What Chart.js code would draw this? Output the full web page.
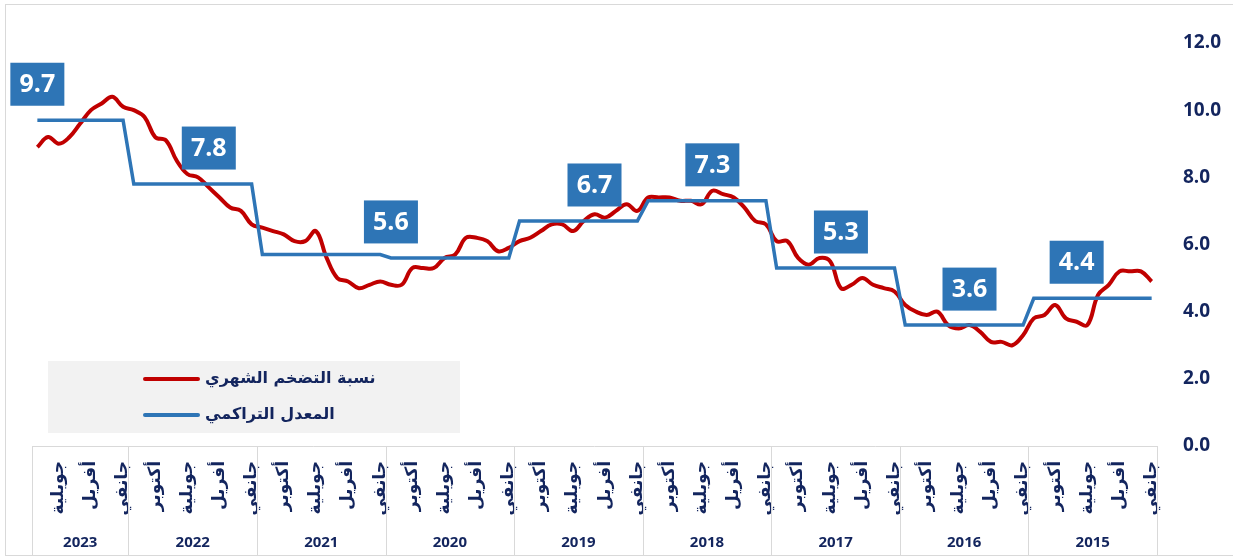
<!DOCTYPE html>
<html lang="ar">
<head>
<meta charset="utf-8">
<title>نسبة التضخم</title>
<script src="https://cdn.jsdelivr.net/npm/chart.js@4.4.0/dist/chart.umd.min.js"></script>
<style>
  html, body { margin: 0; padding: 0; background: #fff; }
  #cadre { width: 1233px; height: 556px; position: relative; }
</style>
</head>
<body>
<div id="cadre"><canvas id="inflationChart"></canvas></div>
<script>
// Catégories
const annees = ['2015', '2016', '2017', '2018', '2019', '2020', '2021', '2022', '2023'];
const mois = ['جانفي', 'فيفري', 'مارس', 'أفريل', 'ماي', 'جوان', 'جويلية', 'أوت', 'سبتمبر', 'أكتوبر', 'نوفمبر', 'ديسمبر'];

// Taux d'inflation mensuel (%), de janvier à décembre
const taux2015 = [4.9, 5.2, 5.2, 5.2, 4.8, 4.5, 3.6, 3.7, 3.8, 4.2, 3.9, 3.8];
const taux2016 = [3.3, 3.0, 3.1, 3.1, 3.4, 3.6, 3.5, 3.6, 4.0, 3.9, 4.0, 4.2];
const taux2017 = [4.6, 4.7, 4.8, 5.0, 4.8, 4.7, 5.5, 5.6, 5.4, 5.6, 6.1, 6.1];
const taux2018 = [6.6, 6.7, 7.1, 7.4, 7.5, 7.6, 7.2, 7.3, 7.3, 7.4, 7.4, 7.4];
const taux2019 = [7.0, 7.2, 7.0, 6.8, 6.9, 6.7, 6.4, 6.6, 6.6, 6.4, 6.2, 6.1];
const taux2020 = [5.9, 5.8, 6.1, 6.2, 6.2, 5.7, 5.6, 5.3, 5.3, 5.3, 4.8, 4.8];
const taux2021 = [4.9, 4.8, 4.7, 4.9, 5.0, 5.6, 6.4, 6.1, 6.1, 6.3, 6.4, 6.5];
const taux2022 = [6.6, 7.0, 7.1, 7.4, 7.7, 8.0, 8.1, 8.5, 9.1, 9.2, 9.8, 10.0];
const taux2023 = [10.1, 10.4, 10.2, 10.0, 9.6, 9.2, 9.0, 9.2, 8.9];

// Taux cumulé (moyenne annuelle)
const moyennes = [4.4, 3.6, 5.3, 7.3, 6.7, 5.6, 5.7, 7.8, 9.7];

// Graduations de l'axe vertical
const yMin = 0, yMax = 12, yPas = 2;

// Construction des séries mensuelles
const parAnnee = [taux2015, taux2016, taux2017, taux2018, taux2019, taux2020, taux2021, taux2022, taux2023];
const etiquettesX = [];
const mensuel = [];
const cumule = [];
const debutAnnee = [];
parAnnee.forEach((serie, a) => {
    debutAnnee.push(mensuel.length);
    serie.forEach((v, m) => {
        etiquettesX.push(mois[m]);
        mensuel.push(v);
        cumule.push(moyennes[a]);
    });
});
debutAnnee.push(mensuel.length);

const bleu = '#2E75B6';
const rouge = '#C00000';
const marine = '#13255E';

// Encadrés, légende et axe à deux niveaux
const habillage = {
    id: 'habillage',
    beforeDraw(chart) {
        const ctx = chart.ctx;
        ctx.save();
        ctx.strokeStyle = '#D9D9D9';
        ctx.lineWidth = 1;
        ctx.strokeRect(5.5, 4.5, chart.width + 10, chart.height - 5);
        ctx.restore();
    },
    afterDatasetsDraw(chart, args, opts) {
        const ctx = chart.ctx;
        const x = chart.scales.x, y = chart.scales.y;
        const serie = chart.data.datasets[1].data;
        ctx.save();
        // valeurs annuelles dans des encadrés bleus
        ctx.font = 'bold 25px "Open Sans"';
        ctx.textAlign = 'center';
        ctx.textBaseline = 'middle';
        opts.encadres.forEach(i => {
            const px = x.getPixelForValue(i);
            const py = y.getPixelForValue(serie[i]) - 36;
            ctx.fillStyle = bleu;
            ctx.fillRect(px - 27, py - 21.5, 54, 43);
            ctx.fillStyle = '#fff';
            ctx.fillText(serie[i].toFixed(1), px, py + 1);
        });
        // légende
        const lg = opts.legende;
        ctx.fillStyle = '#F2F2F2';
        ctx.fillRect(lg.x, lg.y, lg.w, lg.h);
        ctx.font = 'bold 16px "DejaVu Sans"';
        ctx.textAlign = 'left';
        chart.data.datasets.forEach((ds, k) => {
            const ly = lg.y + 18 + k * 36;
            ctx.strokeStyle = ds.borderColor;
            ctx.lineWidth = 4;
            ctx.lineCap = 'round';
            ctx.beginPath();
            ctx.moveTo(lg.x + 97, ly);
            ctx.lineTo(lg.x + 150, ly);
            ctx.stroke();
            ctx.fillStyle = marine;
            ctx.fillText(ds.label, lg.x + 157, ly);
        });
        ctx.restore();
    },
    afterDraw(chart) {
        const ctx = chart.ctx;
        const x = chart.scales.x;
        const area = chart.chartArea;
        const bas = chart.height;
        ctx.save();
        ctx.strokeStyle = '#D9D9D9';
        ctx.lineWidth = 1;
        ctx.beginPath();
        ctx.moveTo(area.left, area.bottom + 0.5);
        ctx.lineTo(area.right, area.bottom + 0.5);
        ctx.stroke();
        ctx.font = 'bold 15px "Open Sans"';
        ctx.fillStyle = marine;
        ctx.textAlign = 'center';
        ctx.textBaseline = 'middle';
        const limite = i => {
            if (i <= 0) return area.right;
            if (i >= mensuel.length) return area.left;
            return (x.getPixelForValue(i - 1) + x.getPixelForValue(i)) / 2;
        };
        for (let a = 0; a < annees.length; a++) {
            const d = limite(debutAnnee[a]);
            const f = limite(debutAnnee[a + 1]);
            [d, f].forEach(px => {
                ctx.beginPath();
                ctx.moveTo(Math.round(px) + 0.5, area.bottom);
                ctx.lineTo(Math.round(px) + 0.5, bas);
                ctx.stroke();
            });
            ctx.fillText(annees[a], (d + f) / 2, 543);
        }
        ctx.restore();
    }
};

const ctx = document.getElementById('inflationChart').getContext('2d');
const inflationChart = new Chart(ctx, {
    type: 'line',
    data: {
        labels: etiquettesX,
        datasets: [{
            label: 'نسبة التضخم الشهري',
            data: mensuel,
            borderColor: rouge,
            borderWidth: 4,
            tension: 0.4,
            pointRadius: 0,
            order: 2
        }, {
            label: 'المعدل التراكمي',
            data: cumule,
            borderColor: bleu,
            borderWidth: 3.5,
            tension: 0,
            pointRadius: 0,
            order: 1
        }]
    },
    options: {
        responsive: true,
        maintainAspectRatio: false,
        animation: false,
        layout: { padding: { left: 32, top: 43, right: 0, bottom: 0 } },
        plugins: {
            legend: { display: false },
            tooltip: { enabled: false },
            habillage: {
                encadres: [7, 17, 29, 41, 52, 71, 88, 104],
                legende: { x: 48, y: 361, w: 412, h: 72 }
            }
        },
        scales: {
            x: {
                reverse: true,
                offset: true,
                grid: { display: false, drawTicks: false },
                border: { display: false },
                ticks: {
                    autoSkip: false,
                    minRotation: 90,
                    maxRotation: 90,
                    padding: 15,
                    color: marine,
                    font: { family: 'DejaVu Sans', size: 17, weight: 'bold' },
                    callback: (val, i) => (i % 3 === 0 ? etiquettesX[i] : '')
                },
                afterFit: s => { s.height = 110; }
            },
            y: {
                position: 'right',
                min: yMin,
                max: yMax,
                grid: { display: false, drawTicks: false },
                border: { display: false },
                ticks: {
                    stepSize: yPas,
                    padding: 26,
                    color: marine,
                    font: { family: 'Open Sans', size: 19, weight: 'bold' },
                    callback: v => v.toFixed(1)
                },
                afterFit: s => { s.width = 76; }
            }
        }
    },
    plugins: [habillage]
});
</script>
</body>
</html>
